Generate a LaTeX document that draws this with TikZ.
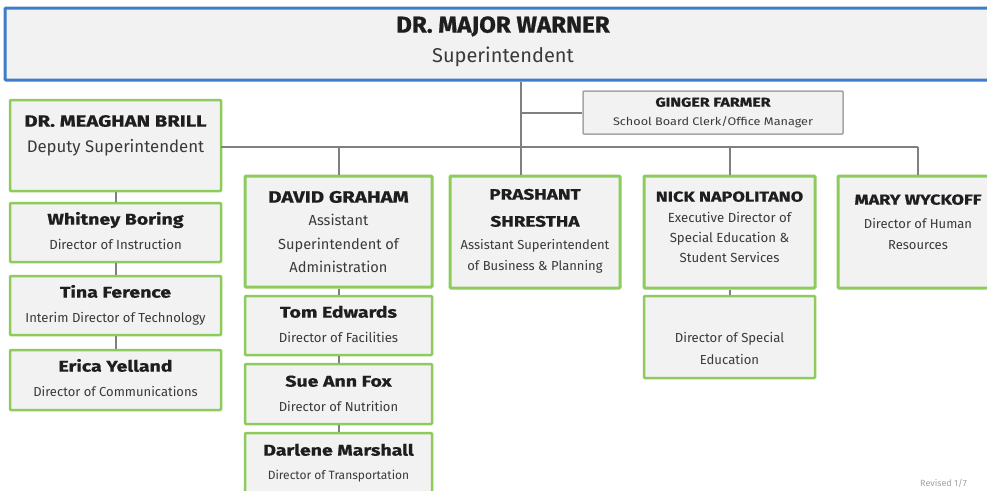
\documentclass[tikz,border=0pt]{standalone}
\usepackage{fontspec}
\setmainfont{Fira Sans}
\newfontfamily\supfont{Fira Sans}[FakeStretch=1.05, BoldFeatures={FakeBold=0.8}]
\newfontfamily\namefont{Fira Sans}[FakeStretch=1.25, BoldFeatures={FakeBold=0.8}]
\newfontfamily\widefont{Fira Sans}[FakeStretch=1.15]
\usetikzlibrary{calc}

\definecolor{suptblue}{HTML}{3D7CC9}
\definecolor{leafgreen}{HTML}{8DCB5C}
\definecolor{boxfill}{HTML}{F2F2F2}
\definecolor{clerkgray}{HTML}{A6A6A6}
\definecolor{wire}{HTML}{808080}
\definecolor{txtdark}{HTML}{1E1E1E}
\definecolor{txtmid}{HTML}{3A3A3A}
\definecolor{notegray}{HTML}{A0A0A0}

\tikzset{
  box/.style={draw, fill=boxfill, inner sep=0pt, rounded corners=1pt},
  topbox/.style={box, draw=suptblue, line width=3pt},
  gbox/.style={box, draw=leafgreen, line width=2.5pt},
  hbox/.style={box, draw=leafgreen, line width=3pt},
  cbox/.style={box, draw=clerkgray, line width=1.5pt},
  ln/.style={anchor=mid, inner sep=0pt, text=txtmid},
  nm/.style={anchor=mid, inner sep=0pt, text=txtdark},
  wirestyle/.style={draw=wire, line width=2pt},
}
\newcommand{\fs}[1]{\fontsize{#1}{#1}\selectfont}

\begin{document}
\begin{tikzpicture}[x=1pt, y=-1pt]
\useasboundingbox (0,0) rectangle (987,490);

% ---------- boxes ----------
\node[topbox, minimum width=996pt, minimum height=72pt] (sup) at (503,44) {};
\node[cbox, minimum width=260pt, minimum height=43pt] (ginger) at (713,112.5) {};

\node[gbox, minimum width=211pt, minimum height=91pt] (brill) at (115.5,145.5) {};
\node[gbox, minimum width=211pt, minimum height=59pt] (whitney) at (115.5,232.5) {};
\node[gbox, minimum width=211pt, minimum height=59pt] (tina) at (115.5,305.5) {};
\node[gbox, minimum width=211pt, minimum height=60pt] (erica) at (115.5,380) {};

\node[hbox, minimum width=187pt, minimum height=111pt] (david) at (338.5,231.5) {};
\node[gbox, minimum width=187pt, minimum height=59pt] (tom) at (338.5,325.5) {};
\node[gbox, minimum width=187pt, minimum height=60pt] (sue) at (338.5,394) {};
\node[gbox, minimum width=187pt, minimum height=62pt] (darlene) at (338.5,464) {};

\node[hbox, minimum width=170pt, minimum height=112pt] (prashant) at (535,232) {};
\node[hbox, minimum width=171pt, minimum height=112pt] (nick) at (729.5,232) {};
\node[gbox, minimum width=171pt, minimum height=82pt] (dse) at (729.5,337) {};
\node[hbox, minimum width=158pt, minimum height=112pt] (mary) at (917,232) {};

% ---------- connectors ----------
\coordinate (trunk) at (521,0);
\coordinate (busL) at (221,147);
\coordinate (busR) at (918,147);
\coordinate (clerkY) at (0,113);

\draw[wirestyle] (sup.south -| trunk) -- (prashant.north -| trunk);
\draw[wirestyle] (trunk |- clerkY) -- (ginger.west |- clerkY);
\draw[wirestyle] (busL) -- (busR);
\draw[wirestyle] (busL -| david.north) -- (david.north);
\draw[wirestyle] (busL -| nick.north) -- (nick.north);
\draw[wirestyle] (busR) -- (busR |- mary.north);

\draw[wirestyle] (brill.south) -- (whitney.north);
\draw[wirestyle] (whitney.south) -- (tina.north);
\draw[wirestyle] (tina.south) -- (erica.north);
\draw[wirestyle] (david.south) -- (tom.north);
\draw[wirestyle] (tom.south) -- (sue.north);
\draw[wirestyle] (sue.south) -- (darlene.north);
\draw[wirestyle] (nick.south) -- (dse.north);

% ---------- texts ----------
\node[nm, font=\supfont\fs{23}\bfseries] (supName) at (503,30) {DR. MAJOR WARNER};
\node[ln, font=\fs{20}] (supTitle) at (503,60) {Superintendent};

\node[nm, font=\namefont\fs{12.8}\bfseries] (gingerName) at (713,104) {GINGER FARMER};
\node[ln, font=\widefont\fs{11}] (gingerTitle) at (713,123) {School Board Clerk/Office Manager};

\node[nm, font=\namefont\fs{16.2}\bfseries] (brillName) at (115.5,124) {DR. MEAGHAN BRILL};
\node[ln, font=\fs{16.8}] (brillTitle) at (115.5,150) {Deputy Superintendent};

\node[nm, font=\namefont\fs{15.6}\bfseries] (whitneyName) at (115.5,222) {Whitney Boring};
\node[ln, font=\fs{13.2}] (whitneyTitle) at (115.5,247) {Director of Instruction};

\node[nm, font=\namefont\fs{15.6}\bfseries] (tinaName) at (115.5,295) {Tina Ference};
\node[ln, font=\fs{13.1}] (tinaTitle) at (115.5,320) {Interim Director of Technology};

\node[nm, font=\namefont\fs{15.6}\bfseries] (ericaName) at (115.5,369) {Erica Yelland};
\node[ln, font=\fs{13}] (ericaTitle) at (115.5,394) {Director of Communications};

\node[nm, font=\namefont\fs{16.4}\bfseries] (davidName) at (338.5,200) {DAVID GRAHAM};
\node[ln, font=\fs{14.6}] (davidT1) at (338.5,223) {Assistant};
\node[ln, font=\fs{14.6}] (davidT2) at (338.5,247) {Superintendent of};
\node[ln, font=\fs{14.6}] (davidT3) at (338.5,270) {Administration};

\node[nm, font=\namefont\fs{15.6}\bfseries] (tomName) at (338.5,315) {Tom Edwards};
\node[ln, font=\fs{13.2}] (tomTitle) at (338.5,340) {Director of Facilities};

\node[nm, font=\namefont\fs{15.6}\bfseries] (sueName) at (338.5,384) {Sue Ann Fox};
\node[ln, font=\fs{13}] (sueTitle) at (338.5,409) {Director of Nutrition};

\node[nm, font=\namefont\fs{15.6}\bfseries] (darleneName) at (338.5,453) {Darlene Marshall};
\node[ln, font=\fs{12}] (darleneTitle) at (338.5,477) {Director of Transportation};

\node[nm, font=\namefont\fs{15.1}\bfseries] (prashantN1) at (535,197) {PRASHANT};
\node[nm, font=\namefont\fs{15.1}\bfseries] (prashantN2) at (535,224) {SHRESTHA};
\node[ln, font=\fs{13}] (prashantT1) at (535,247) {Assistant Superintendent};
\node[ln, font=\fs{13}] (prashantT2) at (535,268) {of Business \& Planning};

\node[nm, font=\namefont\fs{14.4}\bfseries] (nickName) at (729.5,199) {NICK NAPOLITANO};
\node[ln, font=\fs{13.2}] (nickT1) at (729.5,220) {Executive Director of};
\node[ln, font=\fs{13.2}] (nickT2) at (729.5,240) {Special Education \&};
\node[ln, font=\fs{13.2}] (nickT3) at (729.5,260) {Student Services};

\node[ln, font=\fs{13.1}] (dseT1) at (729.5,340) {Director of Special};
\node[ln, font=\fs{13.1}] (dseT2) at (729.5,362) {Education};

\node[nm, font=\namefont\fs{14.4}\bfseries] (maryName) at (918,202) {MARY WYCKOFF};
\node[ln, font=\fs{13}] (maryT1) at (918,226) {Director of Human};
\node[ln, font=\fs{13}] (maryT2) at (918,247) {Resources};

\node[anchor=mid west, inner sep=0pt, font=\fs{9}, text=notegray] (revised) at (920,484) {Revised 1/7};
\end{tikzpicture}
\end{document}
